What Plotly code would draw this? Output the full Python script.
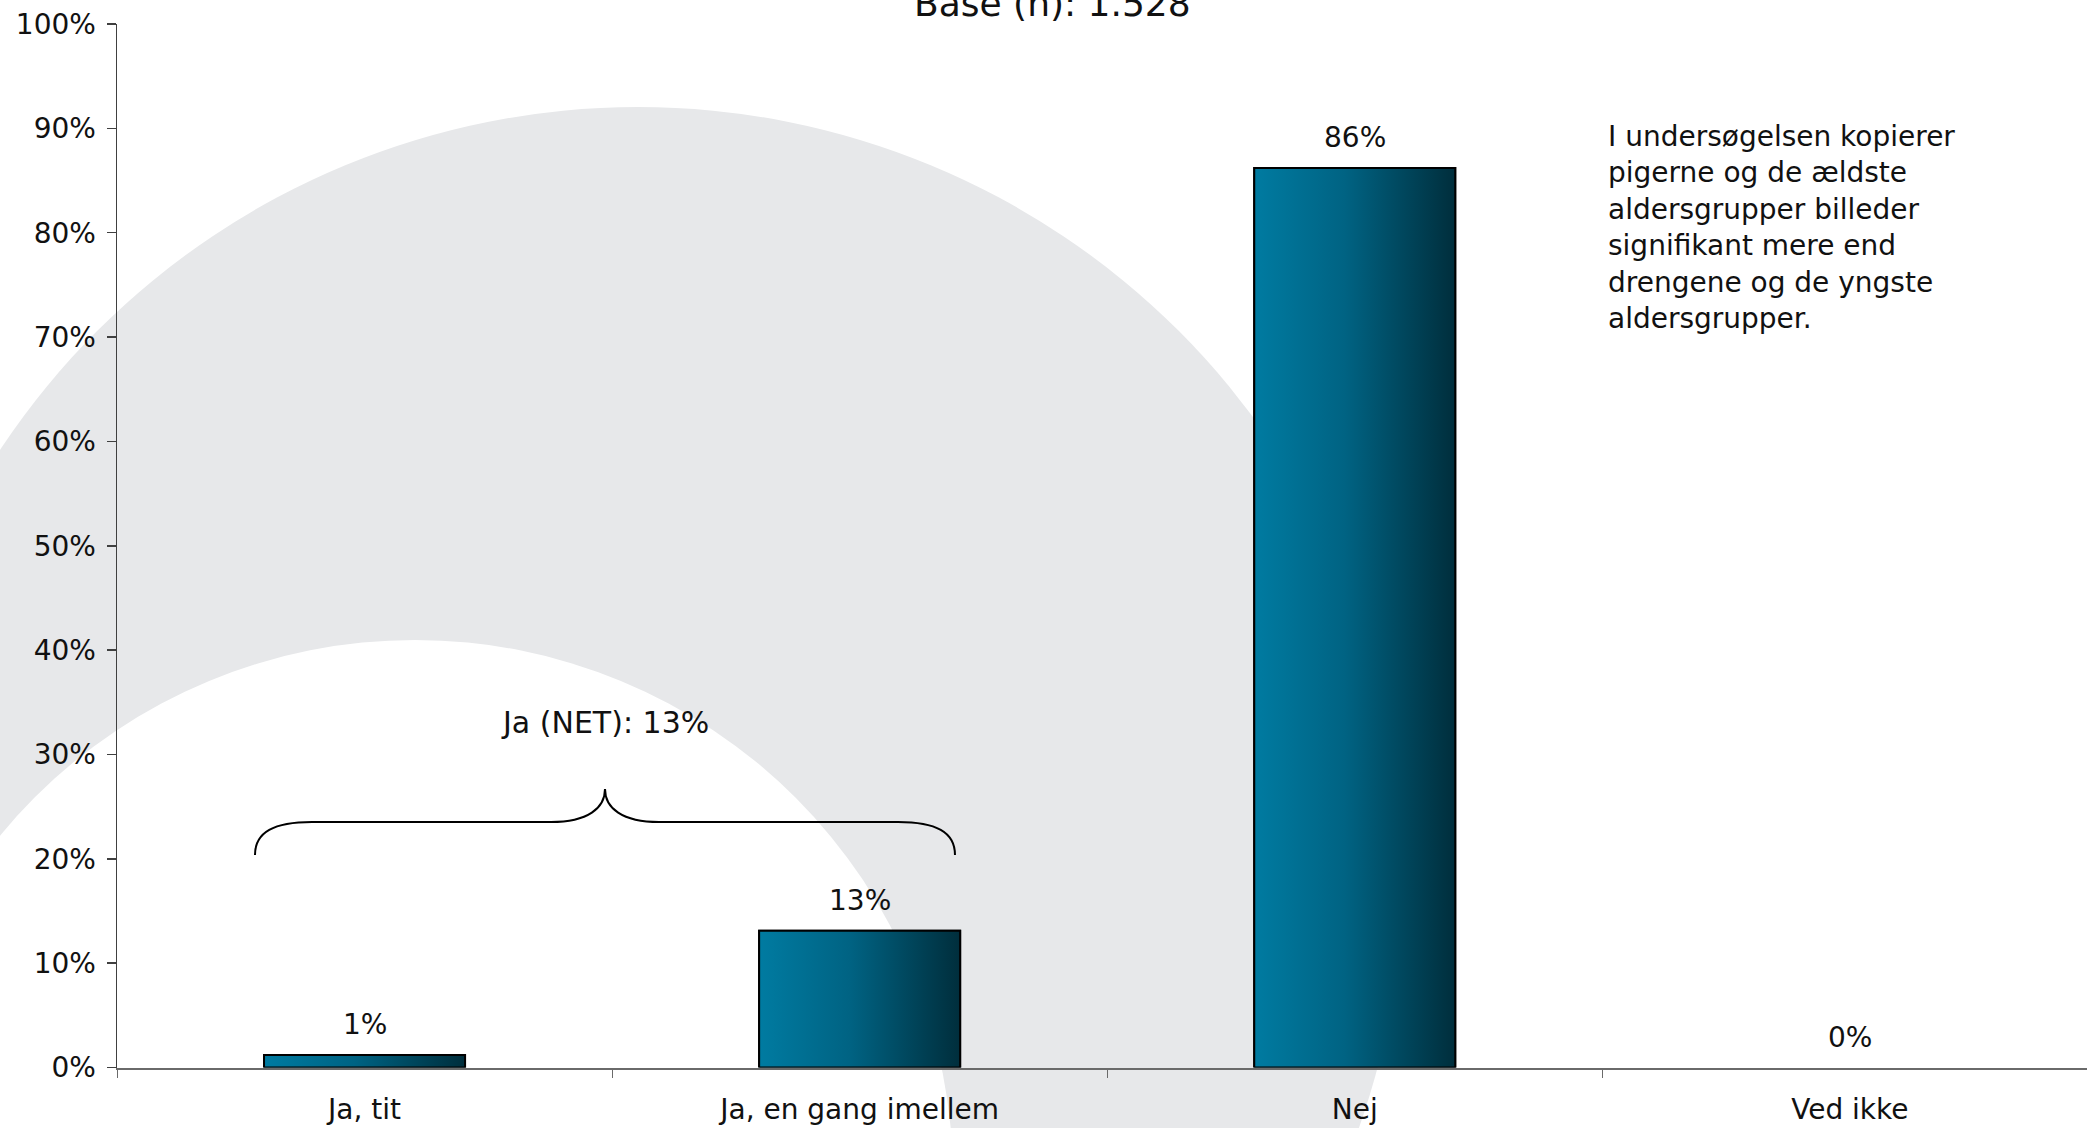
import plotly.graph_objects as go

# ---------------- data ----------------
categories = ["Ja, tit", "Ja, en gang imellem", "Nej", "Ved ikke"]
values = [1.2, 13.1, 86.2, 0.0]
y_tick_values = [0, 10, 20, 30, 40, 50, 60, 70, 80, 90, 100]
title_text = "Base (n): 1.528"
net_label = "Ja (NET): 13%"
note_lines = [
    "I undersøgelsen kopierer",
    "pigerne og de ældste",
    "aldersgrupper billeder",
    "signifikant mere end",
    "drengene og de yngste",
    "aldersgrupper.",
]

# ---------------- style ----------------
W, H = 2087, 1128
FONT = "DejaVu Sans"
TXT = "#111111"
BAR_W = 0.406
X_RANGE = [-0.5, 3.479]
GRAD = [[0.0, "#007BA1"], [0.45, "#006383"], [1.0, "#002E3C"]]
GRAY = "#E7E8EA"


def px(x):
    return x / W


def py(y):
    return 1 - y / H


fig = go.Figure()

# base bars (categorical axis)
fig.add_trace(go.Bar(
    x=categories, y=values, width=BAR_W,
    marker=dict(color="#005A78",
                line=dict(color="black", width=[2 if v > 0 else 0 for v in values])),
    hoverinfo="skip", showlegend=False,
))

# gradient overlay for each bar (same geometry, numeric twin axis)
for i, v in enumerate(values):
    if v <= 0:
        continue
    x0, x1 = i - BAR_W / 2, i + BAR_W / 2
    fig.add_trace(go.Scatter(
        x=[x0, x1, x1, x0, x0], y=[0, 0, v, v, 0],
        xaxis="x2", yaxis="y", mode="lines", fill="toself",
        fillgradient=dict(type="horizontal", colorscale=GRAD),
        line=dict(color="black", width=2),
        hoverinfo="skip", showlegend=False,
    ))

# value labels
for cat, v in zip(categories, values):
    fig.add_annotation(
        x=cat, y=v, xref="x", yref="y", text=f"{v:.0f}%", showarrow=False,
        yanchor="bottom", yshift=12, font=dict(family=FONT, size=28, color=TXT),
    )

# title
fig.add_annotation(
    x=px(1053), y=py(4), xref="paper", yref="paper", text=title_text,
    showarrow=False, xanchor="center", yanchor="middle",
    font=dict(family=FONT, size=36, color=TXT),
)

# side note
fig.add_annotation(
    x=px(1606), y=py(118), xref="paper", yref="paper",
    text="<br>".join(note_lines), showarrow=False, align="left",
    xanchor="left", yanchor="top", font=dict(family=FONT, size=28, color=TXT),
)

# NET label
fig.add_annotation(
    x=px(605), y=py(722), xref="paper", yref="paper", text=net_label,
    showarrow=False, xanchor="center", yanchor="middle",
    font=dict(family=FONT, size=30, color=TXT),
)

# background swoosh
shapes = [
    dict(type="circle", xref="paper", yref="paper", layer="below",
         x0=px(638 - 765), x1=px(638 + 765), y0=py(872 + 765), y1=py(872 - 765),
         fillcolor=GRAY, line=dict(width=0)),
    dict(type="circle", xref="paper", yref="paper", layer="below",
         x0=px(415 - 538), x1=px(415 + 538), y0=py(1178 + 538), y1=py(1178 - 538),
         fillcolor="white", line=dict(width=0)),
]

# curly brace
def P(x, y):
    return f"{px(x):.5f},{py(y):.5f}"

brace = (
    f"M {P(255, 855)} C {P(255, 832)} {P(274, 822)} {P(312, 822)} "
    f"L {P(551, 822)} C {P(588, 822)} {P(605, 808)} {P(605, 789)} "
    f"C {P(605, 808)} {P(622, 822)} {P(659, 822)} "
    f"L {P(898, 822)} C {P(936, 822)} {P(955, 832)} {P(955, 855)}"
)
shapes.append(dict(type="path", xref="paper", yref="paper", path=brace,
                   line=dict(color="black", width=2), layer="above"))

fig.update_layout(
    width=W, height=H,
    margin=dict(l=0, r=0, t=0, b=0),
    paper_bgcolor="white", plot_bgcolor="rgba(0,0,0,0)",
    showlegend=False, bargap=0,
    shapes=shapes,
    font=dict(family=FONT, size=28, color=TXT),
    xaxis=dict(
        type="category", domain=[px(117), 1.0], range=X_RANGE,
        showline=True, linecolor="#6A6A6A", linewidth=2,
        ticks="outside", tickson="boundaries", ticklen=8, tickcolor="#6A6A6A",
        tickwidth=1, showgrid=False, zeroline=False, automargin=False,
        ticklabelstandoff=16, tickfont=dict(family=FONT, size=28, color=TXT),
        fixedrange=True,
    ),
    xaxis2=dict(overlaying="x", anchor="y", range=X_RANGE, visible=False,
                fixedrange=True),
    yaxis=dict(
        domain=[1 - 1067.5 / H, 1 - 24 / H], range=[0, 100],
        tickmode="array", tickvals=y_tick_values,
        ticktext=[f"{t}%" for t in y_tick_values],
        showline=True, linecolor="#404040", linewidth=1.5,
        ticks="outside", ticklen=9, tickcolor="#404040", tickwidth=1.5,
        showgrid=False, zeroline=False, automargin=False,
        ticklabelstandoff=5, tickfont=dict(family=FONT, size=28, color=TXT),
        fixedrange=True,
    ),
)

fig.write_html(
    "out.html",
    config={"displayModeBar": False, "staticPlot": True},
    post_script="document.body.style.margin='0';document.body.style.padding='0';",
)
